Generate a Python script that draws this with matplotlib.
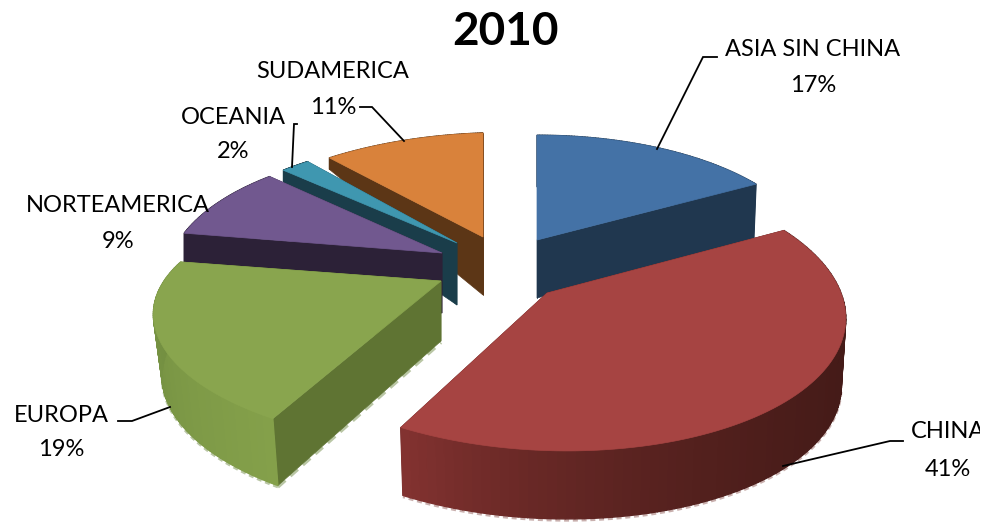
import numpy as np
import matplotlib
matplotlib.use("Agg")
import matplotlib.pyplot as plt
from matplotlib.patches import Polygon, Rectangle
from matplotlib.colors import to_rgb

# ---- data ----
title = "2010"
categories = ["ASIA SIN CHINA", "CHINA", "EUROPA", "NORTEAMERICA", "OCEANIA", "SUDAMERICA"]
values = [17.2, 41.2, 19.2, 9.2, 2.0, 11.2]

# ---- style / layout ----
top_colors = ["#4472A6", "#A64442", "#89A54E", "#71588F", "#3F97B0", "#D9823B"]
face_colors = ["#20374F", "#4A1C19", "#5F7433", "#2C2137", "#1A3D4A", "#5C3616"]
rim_start = ["#20374F", "#431A17", "#84A04A", "#2C2137", "#1A3D4A", "#5C3616"]
rim_end = ["#20374F", "#823230", "#6F8B3F", "#2C2137", "#1A3D4A", "#5C3616"]
rim_power = [1, 3, 1, 1, 1, 1]
# apex x, apex y, rx, ry, y shear, x shear, perspective, wall height, wall taper, bottom scale x, bottom scale y
geom = {
    "ASIA SIN CHINA": (537, 240, 274, 131, 0, 0, .20, 58, 8, .99, 1.0),
    "CHINA": (547, 293, 294, 141, 0, 18, .12, 68, 20, .985, 1.0),
    "EUROPA": (441, 281, 277, 124, 0, 10, .33, 60, 0, .97, 1.05),
    "NORTEAMERICA": (442, 253, 270, 132, -1, 0, .20, 60, 10, 1.0, 1.0),
    "OCEANIA": (457, 243, 272, 131, -6, 0, .20, 62, 78, 1.0, 1.0),
    "SUDAMERICA": (483, 237, 280, 130, -9, 0, .20, 58, 72, 1.0, 1.0),
}
draw_order = ["SUDAMERICA", "ASIA SIN CHINA", "OCEANIA", "NORTEAMERICA", "EUROPA", "CHINA"]
halo = {"EUROPA": "#B9C6A4", "CHINA": "#C9B0AE"}
label_pos = {
    "ASIA SIN CHINA": (813, 50, 85),
    "CHINA": (948, 432, 469),
    "EUROPA": (61, 415, 449),
    "NORTEAMERICA": (118, 206, 241),
    "OCEANIA": (233, 117, 152),
    "SUDAMERICA": (333, 71, 107),
}
leaders = {
    "ASIA SIN CHINA": ([717, 703, 657], [57, 57, 149]),
    "CHINA": ([903, 890, 783], [441, 441, 466]),
    "EUROPA": ([118, 132, 170], [421, 421, 407]),
    "OCEANIA": ([297, 294, 292], [124, 124, 167]),
    "SUDAMERICA": ([360, 372, 404], [107, 107, 141]),
}

plt.rcParams["font.family"] = ["Lato", "DejaVu Sans"]
fig = plt.figure(figsize=(9.85, 5.23), dpi=100)
ax = fig.add_axes([0, 0, 1, 1])
ax.set_xlim(0, 985)
ax.set_ylim(523, 0)
ax.axis("off")

fractions = np.array(values) / sum(values)
ends = np.cumsum(fractions) * 2 * np.pi
starts = ends - fractions * 2 * np.pi
index = {c: i for i, c in enumerate(categories)}


def project(name, theta):
    ax0, ay0, rx, ry, ys, xs, p = geom[name][:7]
    u, v = np.sin(theta), np.cos(theta)
    s = 1 - p * v
    return ax0 + rx * u * s - xs * v * s, ay0 - ry * v * s + ys * u * s, v * s


def bottom(name, x, y, vs):
    ax0, ay0 = geom[name][:2]
    h, taper, bsx, bsy = geom[name][7:]
    return ax0 + (x - ax0) * bsx, ay0 + (y - ay0) * bsy + h - taper * np.maximum(vs, 0)


for name in draw_order:
    i = index[name]
    ax0, ay0 = geom[name][:2]
    theta = np.linspace(starts[i], ends[i], 90)
    x, y, vs = project(name, theta)
    bx, by = bottom(name, x, y, vs)
    abx, aby = bottom(name, np.array([ax0]), np.array([ay0]), np.array([0.0]))
    if name in halo:
        ax.plot(bx, by + 1.5, color=halo[name], lw=1.8, ls=(0, (2, 1.5)), zorder=1)
    if name == "EUROPA":
        ax.plot([bx[0], abx[0]], [by[0] + 1.5, aby[0] + 1.5], color=halo[name], lw=2.4,
                ls=(0, (3, 2)), zorder=1)
    # cut faces
    for k in (0, -1):
        ax.add_patch(Polygon([(ax0, ay0), (x[k], y[k]), (bx[k], by[k]), (abx[0], aby[0])],
                             closed=True, fc=face_colors[i], ec=face_colors[i], lw=.5, zorder=1))
    # rim, shaded along the arc
    c0, c1 = np.array(to_rgb(rim_start[i])), np.array(to_rgb(rim_end[i]))
    for k in range(len(theta) - 1):
        c = c0 + (c1 - c0) * (k / (len(theta) - 2)) ** rim_power[i]
        ax.add_patch(Polygon([(x[k], y[k]), (x[k + 1], y[k + 1]), (bx[k + 1], by[k + 1]), (bx[k], by[k])],
                             closed=True, fc=c, ec=c, lw=1, zorder=1))
    # top surface
    ax.add_patch(Polygon(np.column_stack([np.r_[ax0, x], np.r_[ay0, y]]), closed=True,
                         fc=top_colors[i], ec=top_colors[i], lw=.5, zorder=1))

for name, (lx, ly) in leaders.items():
    ax.plot(lx, ly, color="black", lw=1.3, solid_joinstyle="miter", zorder=5)

clip = Rectangle((0, 0), 980, 523, transform=ax.transData)
for name, (cx, y1, y2) in label_pos.items():
    i = index[name]
    t1 = ax.text(cx, y1, name, ha="center", va="center", fontsize=17, color="black", zorder=6,
                 clip_on=True)
    t2 = ax.text(cx, y2, f"{round(values[i])}%", ha="center", va="center", fontsize=17,
                 color="black", zorder=6, clip_on=True)
    t1.set_clip_path(clip)
    t2.set_clip_path(clip)

ax.text(506, 32, title, ha="center", va="center", fontsize=33, fontweight="bold", color="black", zorder=6)

fig.savefig("out.png", dpi=100, facecolor="white")
